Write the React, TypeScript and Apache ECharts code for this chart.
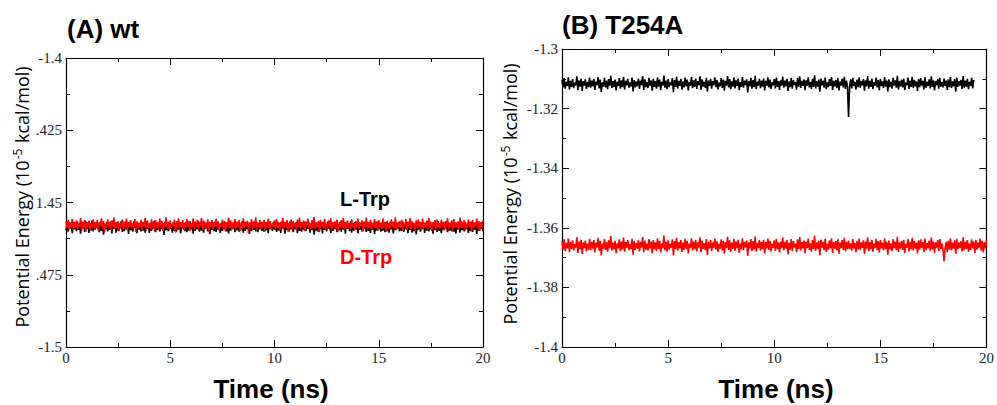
import React, { useEffect, useRef } from "react";
import * as echarts from "echarts";

// ---------- data ----------
const timeStepNs = 0.05;

const xTickValues = [0, 5, 10, 15, 20];
const xTickLabels = ["0", "5", "10", "15", "20"];

const wtTickValues = [-1.5, -1.475, -1.45, -1.425, -1.4];
const wtTickLabels = ["-1.5", ".475", "1.45", ".425", "-1.4"];

const t254aTickValues = [-1.4, -1.38, -1.36, -1.34, -1.32, -1.3];
const t254aTickLabels = ["-1.4", "-1.38", "-1.36", "-1.34", "-1.32", "-1.3"];

// (A) wt, L-Trp (black), 0-20 ns
const wtLTrp = [
  -1.4596, -1.4572, -1.4601, -1.4568, -1.4590, -1.4576, -1.4606, -1.4570, -1.4593, -1.4579,
  -1.4599, -1.4566, -1.4595, -1.4574, -1.4608, -1.4569, -1.4588, -1.4577, -1.4602, -1.4565,
  -1.4591, -1.4573, -1.4605, -1.4571, -1.4597, -1.4563, -1.4600, -1.4575, -1.4594, -1.4570,
  -1.4589, -1.4578, -1.4603, -1.4567, -1.4598, -1.4572, -1.4611, -1.4574, -1.4592, -1.4569,
  -1.4600, -1.4576, -1.4595, -1.4566, -1.4607, -1.4573, -1.4590, -1.4571, -1.4604, -1.4568,
  -1.4597, -1.4575, -1.4589, -1.4564, -1.4602, -1.4579, -1.4599, -1.4570, -1.4593, -1.4577,
  -1.4609, -1.4567, -1.4596, -1.4573, -1.4601, -1.4566, -1.4588, -1.4578, -1.4606, -1.4571,
  -1.4594, -1.4574, -1.4600, -1.4568, -1.4597, -1.4572, -1.4604, -1.4565, -1.4591, -1.4576,
  -1.4605, -1.4570, -1.4598, -1.4575, -1.4590, -1.4563, -1.4603, -1.4572, -1.4595, -1.4579,
  -1.4600, -1.4569, -1.4592, -1.4573, -1.4612, -1.4567, -1.4596, -1.4574, -1.4599, -1.4571,
  -1.4591, -1.4576, -1.4604, -1.4568, -1.4597, -1.4572, -1.4601, -1.4566, -1.4594, -1.4577,
  -1.4607, -1.4571, -1.4589, -1.4574, -1.4599, -1.4569, -1.4603, -1.4575, -1.4596, -1.4565,
  -1.4593, -1.4573, -1.4608, -1.4570, -1.4598, -1.4576, -1.4592, -1.4564, -1.4601, -1.4572,
  -1.4597, -1.4578, -1.4604, -1.4567, -1.4590, -1.4574, -1.4600, -1.4571, -1.4610, -1.4569,
  -1.4595, -1.4575, -1.4599, -1.4566, -1.4602, -1.4573, -1.4594, -1.4577, -1.4605, -1.4570,
  -1.4598, -1.4572, -1.4593, -1.4568, -1.4600, -1.4575, -1.4607, -1.4567, -1.4597, -1.4574,
  -1.4590, -1.4571, -1.4603, -1.4576, -1.4596, -1.4569, -1.4601, -1.4573, -1.4594, -1.4565,
  -1.4604, -1.4574, -1.4598, -1.4570, -1.4592, -1.4577, -1.4609, -1.4572, -1.4599, -1.4568,
  -1.4595, -1.4575, -1.4600, -1.4567, -1.4603, -1.4573, -1.4593, -1.4571, -1.4598, -1.4576,
  -1.4601, -1.4569, -1.4596, -1.4574, -1.4606, -1.4570, -1.4591, -1.4575, -1.4599, -1.4567,
  -1.4594, -1.4578, -1.4602, -1.4566, -1.4597, -1.4572, -1.4605, -1.4569, -1.4590, -1.4574,
  -1.4608, -1.4573, -1.4595, -1.4577, -1.4600, -1.4565, -1.4593, -1.4571, -1.4603, -1.4575,
  -1.4592, -1.4568, -1.4606, -1.4574, -1.4598, -1.4570, -1.4601, -1.4576, -1.4594, -1.4567,
  -1.4599, -1.4575, -1.4591, -1.4569, -1.4604, -1.4573, -1.4596, -1.4564, -1.4611, -1.4572,
  -1.4597, -1.4576, -1.4602, -1.4568, -1.4593, -1.4574, -1.4607, -1.4570, -1.4595, -1.4578,
  -1.4600, -1.4566, -1.4590, -1.4573, -1.4605, -1.4571, -1.4598, -1.4575, -1.4592, -1.4569,
  -1.4603, -1.4574, -1.4596, -1.4567, -1.4601, -1.4577, -1.4594, -1.4572, -1.4608, -1.4570,
  -1.4591, -1.4573, -1.4599, -1.4565, -1.4604, -1.4575, -1.4597, -1.4568, -1.4593, -1.4576,
  -1.4606, -1.4570, -1.4595, -1.4574, -1.4600, -1.4567, -1.4590, -1.4573, -1.4602, -1.4571,
  -1.4598, -1.4577, -1.4605, -1.4569, -1.4594, -1.4572, -1.4609, -1.4575, -1.4596, -1.4566,
  -1.4592, -1.4574, -1.4601, -1.4570, -1.4597, -1.4576, -1.4603, -1.4568, -1.4599, -1.4573,
  -1.4604, -1.4567, -1.4593, -1.4575, -1.4607, -1.4571, -1.4595, -1.4578, -1.4590, -1.4569,
  -1.4600, -1.4572, -1.4598, -1.4566, -1.4602, -1.4574, -1.4592, -1.4570, -1.4606, -1.4575,
  -1.4595, -1.4568, -1.4604, -1.4573, -1.4599, -1.4577, -1.4610, -1.4571, -1.4594, -1.4567,
  -1.4601, -1.4575, -1.4591, -1.4569, -1.4605, -1.4572, -1.4597, -1.4574, -1.4600, -1.4570,
  -1.4593, -1.4576, -1.4608, -1.4567, -1.4596, -1.4573, -1.4602, -1.4565, -1.4598, -1.4574,
  -1.4606, -1.4571, -1.4594, -1.4575, -1.4590, -1.4569, -1.4603, -1.4572, -1.4597, -1.4577,
  -1.4599, -1.4568, -1.4601, -1.4574, -1.4607, -1.4570, -1.4593, -1.4576, -1.4604, -1.4566,
  -1.4596, -1.4573, -1.4600, -1.4569, -1.4592, -1.4575, -1.4605, -1.4571, -1.4598, -1.4567,
  -1.4602, -1.4574, -1.4594, -1.4570, -1.4609, -1.4572, -1.4597, -1.4576, -1.4591, -1.4568,
  -1.4600,
];

// (A) wt, D-Trp (red), 0-20 ns
const wtDTrp = [
  -1.4565, -1.4589, -1.4560, -1.4593, -1.4570, -1.4585, -1.4557, -1.4596, -1.4567, -1.4587,
  -1.4562, -1.4591, -1.4572, -1.4583, -1.4554, -1.4598, -1.4566, -1.4588, -1.4561, -1.4601,
  -1.4569, -1.4584, -1.4563, -1.4594, -1.4571, -1.4589, -1.4558, -1.4590, -1.4568, -1.4586,
  -1.4560, -1.4597, -1.4570, -1.4582, -1.4555, -1.4592, -1.4564, -1.4603, -1.4573, -1.4587,
  -1.4558, -1.4589, -1.4567, -1.4595, -1.4562, -1.4584, -1.4552, -1.4591, -1.4569, -1.4588,
  -1.4564, -1.4599, -1.4571, -1.4585, -1.4559, -1.4593, -1.4566, -1.4589, -1.4556, -1.4596,
  -1.4568, -1.4583, -1.4561, -1.4590, -1.4573, -1.4587, -1.4557, -1.4602, -1.4565, -1.4589,
  -1.4570, -1.4586, -1.4560, -1.4594, -1.4567, -1.4582, -1.4553, -1.4597, -1.4563, -1.4588,
  -1.4572, -1.4591, -1.4558, -1.4585, -1.4566, -1.4600, -1.4561, -1.4587, -1.4569, -1.4593,
  -1.4556, -1.4586, -1.4564, -1.4598, -1.4571, -1.4584, -1.4551, -1.4590, -1.4567, -1.4595,
  -1.4562, -1.4588, -1.4573, -1.4583, -1.4559, -1.4604, -1.4565, -1.4587, -1.4555, -1.4592,
  -1.4568, -1.4585, -1.4561, -1.4596, -1.4570, -1.4589, -1.4557, -1.4586, -1.4564, -1.4599,
  -1.4572, -1.4584, -1.4555, -1.4591, -1.4566, -1.4587, -1.4560, -1.4594, -1.4569, -1.4582,
  -1.4554, -1.4597, -1.4563, -1.4586, -1.4571, -1.4590, -1.4558, -1.4603, -1.4567, -1.4585,
  -1.4561, -1.4593, -1.4569, -1.4583, -1.4556, -1.4588, -1.4565, -1.4596, -1.4573, -1.4586,
  -1.4559, -1.4591, -1.4564, -1.4600, -1.4568, -1.4584, -1.4552, -1.4589, -1.4562, -1.4595,
  -1.4570, -1.4587, -1.4557, -1.4592, -1.4566, -1.4585, -1.4560, -1.4598, -1.4572, -1.4588,
  -1.4555, -1.4590, -1.4567, -1.4582, -1.4563, -1.4605, -1.4569, -1.4586, -1.4558, -1.4593,
  -1.4565, -1.4588, -1.4551, -1.4595, -1.4571, -1.4584, -1.4561, -1.4591, -1.4567, -1.4587,
  -1.4560, -1.4599, -1.4568, -1.4585, -1.4556, -1.4589, -1.4564, -1.4594, -1.4573, -1.4583,
  -1.4562, -1.4592, -1.4557, -1.4588, -1.4569, -1.4597, -1.4566, -1.4584, -1.4554, -1.4590,
  -1.4567, -1.4586, -1.4561, -1.4601, -1.4570, -1.4589, -1.4558, -1.4593, -1.4565, -1.4582,
  -1.4572, -1.4596, -1.4559, -1.4587, -1.4553, -1.4591, -1.4568, -1.4585, -1.4563, -1.4598,
  -1.4566, -1.4584, -1.4556, -1.4589, -1.4571, -1.4594, -1.4561, -1.4588, -1.4550, -1.4592,
  -1.4569, -1.4587, -1.4564, -1.4603, -1.4560, -1.4583, -1.4567, -1.4590, -1.4557, -1.4595,
  -1.4573, -1.4589, -1.4562, -1.4585, -1.4555, -1.4597, -1.4568, -1.4586, -1.4565, -1.4591,
  -1.4559, -1.4599, -1.4570, -1.4584, -1.4561, -1.4589, -1.4554, -1.4594, -1.4567, -1.4588,
  -1.4563, -1.4587, -1.4572, -1.4592, -1.4558, -1.4585, -1.4571, -1.4596, -1.4564, -1.4589,
  -1.4556, -1.4590, -1.4569, -1.4583, -1.4562, -1.4600, -1.4566, -1.4586, -1.4552, -1.4593,
  -1.4568, -1.4588, -1.4560, -1.4595, -1.4573, -1.4584, -1.4557, -1.4589, -1.4565, -1.4598,
  -1.4561, -1.4585, -1.4570, -1.4591, -1.4555, -1.4587, -1.4567, -1.4602, -1.4563, -1.4589,
  -1.4572, -1.4593, -1.4558, -1.4584, -1.4566, -1.4590, -1.4551, -1.4596, -1.4569, -1.4586,
  -1.4564, -1.4589, -1.4560, -1.4598, -1.4574, -1.4583, -1.4557, -1.4594, -1.4567, -1.4588,
  -1.4554, -1.4591, -1.4565, -1.4586, -1.4570, -1.4599, -1.4562, -1.4589, -1.4559, -1.4584,
  -1.4568, -1.4596, -1.4556, -1.4590, -1.4571, -1.4585, -1.4563, -1.4592, -1.4553, -1.4588,
  -1.4566, -1.4598, -1.4569, -1.4583, -1.4561, -1.4594, -1.4558, -1.4587, -1.4572, -1.4590,
  -1.4560, -1.4585, -1.4567, -1.4597, -1.4564, -1.4589, -1.4555, -1.4591, -1.4570, -1.4586,
  -1.4562, -1.4601, -1.4557, -1.4588, -1.4569, -1.4584, -1.4565, -1.4595, -1.4552, -1.4590,
  -1.4567, -1.4587, -1.4561, -1.4596, -1.4573, -1.4589, -1.4559, -1.4585, -1.4566, -1.4600,
  -1.4560, -1.4588, -1.4570, -1.4583, -1.4556, -1.4593, -1.4564, -1.4598, -1.4568, -1.4586,
  -1.4563,
];

// (B) T254A, L-Trp (black), runs to 19.4 ns
const t254aLTrp = [
  -1.3104, -1.3129, -1.3098, -1.3133, -1.3110, -1.3124, -1.3095, -1.3136, -1.3107, -1.3127,
  -1.3101, -1.3131, -1.3113, -1.3122, -1.3092, -1.3138, -1.3105, -1.3126, -1.3099, -1.3141,
  -1.3108, -1.3123, -1.3102, -1.3134, -1.3111, -1.3128, -1.3096, -1.3130, -1.3106, -1.3125,
  -1.3100, -1.3137, -1.3109, -1.3121, -1.3094, -1.3132, -1.3103, -1.3144, -1.3112, -1.3126,
  -1.3097, -1.3129, -1.3106, -1.3135, -1.3101, -1.3123, -1.3090, -1.3131, -1.3108, -1.3127,
  -1.3103, -1.3139, -1.3110, -1.3124, -1.3098, -1.3133, -1.3105, -1.3128, -1.3093, -1.3136,
  -1.3107, -1.3122, -1.3100, -1.3130, -1.3112, -1.3126, -1.3096, -1.3142, -1.3104, -1.3129,
  -1.3109, -1.3125, -1.3099, -1.3134, -1.3106, -1.3121, -1.3091, -1.3137, -1.3102, -1.3128,
  -1.3111, -1.3131, -1.3097, -1.3124, -1.3105, -1.3140, -1.3100, -1.3127, -1.3108, -1.3133,
  -1.3095, -1.3126, -1.3103, -1.3138, -1.3110, -1.3123, -1.3089, -1.3130, -1.3106, -1.3135,
  -1.3101, -1.3128, -1.3112, -1.3122, -1.3098, -1.3145, -1.3104, -1.3127, -1.3093, -1.3132,
  -1.3107, -1.3124, -1.3100, -1.3136, -1.3109, -1.3129, -1.3096, -1.3125, -1.3103, -1.3139,
  -1.3111, -1.3123, -1.3094, -1.3131, -1.3105, -1.3127, -1.3099, -1.3134, -1.3108, -1.3121,
  -1.3092, -1.3137, -1.3102, -1.3126, -1.3110, -1.3130, -1.3097, -1.3143, -1.3106, -1.3124,
  -1.3100, -1.3133, -1.3108, -1.3122, -1.3095, -1.3128, -1.3104, -1.3136, -1.3112, -1.3125,
  -1.3098, -1.3131, -1.3103, -1.3140, -1.3107, -1.3123, -1.3091, -1.3129, -1.3101, -1.3135,
  -1.3109, -1.3126, -1.3096, -1.3132, -1.3105, -1.3124, -1.3099, -1.3138, -1.3111, -1.3127,
  -1.3094, -1.3130, -1.3106, -1.3121, -1.3102, -1.3146, -1.3108, -1.3125, -1.3097, -1.3133,
  -1.3104, -1.3128, -1.3090, -1.3135, -1.3110, -1.3123, -1.3100, -1.3131, -1.3106, -1.3126,
  -1.3099, -1.3139, -1.3107, -1.3124, -1.3095, -1.3129, -1.3103, -1.3134, -1.3112, -1.3122,
  -1.3101, -1.3132, -1.3096, -1.3127, -1.3108, -1.3137, -1.3105, -1.3123, -1.3093, -1.3130,
  -1.3106, -1.3125, -1.3100, -1.3141, -1.3109, -1.3128, -1.3097, -1.3133, -1.3104, -1.3121,
  -1.3111, -1.3136, -1.3098, -1.3126, -1.3092, -1.3131, -1.3107, -1.3124, -1.3102, -1.3138,
  -1.3105, -1.3123, -1.3095, -1.3129, -1.3110, -1.3134, -1.3100, -1.3127, -1.3088, -1.3132,
  -1.3108, -1.3126, -1.3103, -1.3143, -1.3099, -1.3122, -1.3106, -1.3130, -1.3096, -1.3135,
  -1.3112, -1.3128, -1.3101, -1.3124, -1.3094, -1.3137, -1.3107, -1.3125, -1.3104, -1.3131,
  -1.3098, -1.3139, -1.3109, -1.3123, -1.3100, -1.3129, -1.3093, -1.3134, -1.3106, -1.3127,
  -1.3228, -1.3126, -1.3102, -1.3132, -1.3097, -1.3124, -1.3110, -1.3136, -1.3103, -1.3128,
  -1.3095, -1.3130, -1.3108, -1.3122, -1.3101, -1.3140, -1.3105, -1.3125, -1.3091, -1.3133,
  -1.3107, -1.3127, -1.3099, -1.3135, -1.3111, -1.3123, -1.3096, -1.3129, -1.3104, -1.3138,
  -1.3100, -1.3124, -1.3109, -1.3131, -1.3094, -1.3126, -1.3106, -1.3142, -1.3102, -1.3128,
  -1.3110, -1.3133, -1.3097, -1.3123, -1.3105, -1.3130, -1.3090, -1.3136, -1.3108, -1.3125,
  -1.3103, -1.3129, -1.3099, -1.3138, -1.3112, -1.3122, -1.3096, -1.3134, -1.3106, -1.3127,
  -1.3093, -1.3131, -1.3104, -1.3125, -1.3109, -1.3141, -1.3101, -1.3128, -1.3098, -1.3123,
  -1.3107, -1.3136, -1.3095, -1.3130, -1.3110, -1.3124, -1.3102, -1.3132, -1.3092, -1.3127,
  -1.3105, -1.3139, -1.3108, -1.3122, -1.3100, -1.3133, -1.3097, -1.3126, -1.3111, -1.3129,
  -1.3099, -1.3124, -1.3106, -1.3137, -1.3103, -1.3128, -1.3094, -1.3131, -1.3109, -1.3125,
  -1.3101, -1.3143, -1.3096, -1.3127, -1.3108, -1.3123, -1.3104, -1.3134, -1.3091, -1.3130,
  -1.3106, -1.3126, -1.3100, -1.3135, -1.3110, -1.3124, -1.3097, -1.3132, -1.3104,
];

// (B) T254A, D-Trp (red), 0-20 ns
const t254aDTrp = [
  -1.3645, -1.3673, -1.3639, -1.3678, -1.3651, -1.3669, -1.3636, -1.3681, -1.3648, -1.3671,
  -1.3642, -1.3676, -1.3655, -1.3667, -1.3632, -1.3684, -1.3646, -1.3672, -1.3640, -1.3688,
  -1.3649, -1.3668, -1.3643, -1.3679, -1.3653, -1.3674, -1.3637, -1.3675, -1.3647, -1.3670,
  -1.3641, -1.3683, -1.3650, -1.3666, -1.3634, -1.3677, -1.3644, -1.3692, -1.3654, -1.3671,
  -1.3638, -1.3674, -1.3648, -1.3680, -1.3642, -1.3668, -1.3628, -1.3676, -1.3650, -1.3672,
  -1.3644, -1.3685, -1.3652, -1.3669, -1.3639, -1.3678, -1.3646, -1.3673, -1.3633, -1.3681,
  -1.3648, -1.3667, -1.3641, -1.3675, -1.3655, -1.3671, -1.3637, -1.3690, -1.3645, -1.3674,
  -1.3651, -1.3670, -1.3640, -1.3679, -1.3647, -1.3666, -1.3631, -1.3682, -1.3643, -1.3673,
  -1.3653, -1.3676, -1.3638, -1.3669, -1.3646, -1.3686, -1.3641, -1.3672, -1.3649, -1.3678,
  -1.3635, -1.3671, -1.3644, -1.3683, -1.3652, -1.3668, -1.3626, -1.3675, -1.3647, -1.3680,
  -1.3642, -1.3673, -1.3654, -1.3667, -1.3639, -1.3693, -1.3645, -1.3672, -1.3634, -1.3677,
  -1.3648, -1.3669, -1.3641, -1.3681, -1.3650, -1.3674, -1.3637, -1.3670, -1.3644, -1.3685,
  -1.3653, -1.3668, -1.3635, -1.3676, -1.3646, -1.3672, -1.3640, -1.3679, -1.3649, -1.3666,
  -1.3632, -1.3682, -1.3643, -1.3671, -1.3652, -1.3675, -1.3638, -1.3691, -1.3647, -1.3669,
  -1.3641, -1.3678, -1.3649, -1.3667, -1.3636, -1.3673, -1.3645, -1.3681, -1.3654, -1.3670,
  -1.3639, -1.3676, -1.3644, -1.3687, -1.3648, -1.3668, -1.3630, -1.3674, -1.3642, -1.3680,
  -1.3650, -1.3671, -1.3637, -1.3677, -1.3646, -1.3669, -1.3640, -1.3684, -1.3653, -1.3672,
  -1.3635, -1.3675, -1.3647, -1.3666, -1.3643, -1.3694, -1.3649, -1.3670, -1.3638, -1.3678,
  -1.3645, -1.3673, -1.3629, -1.3680, -1.3652, -1.3668, -1.3641, -1.3676, -1.3647, -1.3671,
  -1.3640, -1.3686, -1.3648, -1.3669, -1.3636, -1.3674, -1.3644, -1.3679, -1.3654, -1.3667,
  -1.3642, -1.3677, -1.3637, -1.3672, -1.3649, -1.3683, -1.3646, -1.3668, -1.3633, -1.3675,
  -1.3647, -1.3670, -1.3641, -1.3689, -1.3650, -1.3673, -1.3638, -1.3678, -1.3645, -1.3666,
  -1.3653, -1.3682, -1.3639, -1.3671, -1.3631, -1.3676, -1.3648, -1.3669, -1.3643, -1.3685,
  -1.3646, -1.3668, -1.3636, -1.3674, -1.3652, -1.3680, -1.3641, -1.3672, -1.3627, -1.3677,
  -1.3649, -1.3671, -1.3644, -1.3692, -1.3640, -1.3667, -1.3647, -1.3675, -1.3637, -1.3681,
  -1.3654, -1.3673, -1.3642, -1.3669, -1.3635, -1.3684, -1.3648, -1.3670, -1.3645, -1.3676,
  -1.3639, -1.3687, -1.3650, -1.3668, -1.3641, -1.3674, -1.3634, -1.3679, -1.3647, -1.3672,
  -1.3643, -1.3671, -1.3652, -1.3677, -1.3638, -1.3669, -1.3651, -1.3682, -1.3644, -1.3673,
  -1.3636, -1.3675, -1.3649, -1.3667, -1.3642, -1.3688, -1.3646, -1.3670, -1.3632, -1.3678,
  -1.3648, -1.3672, -1.3640, -1.3680, -1.3653, -1.3668, -1.3637, -1.3674, -1.3645, -1.3683,
  -1.3641, -1.3669, -1.3650, -1.3676, -1.3635, -1.3671, -1.3647, -1.3690, -1.3643, -1.3673,
  -1.3652, -1.3678, -1.3638, -1.3668, -1.3646, -1.3675, -1.3630, -1.3681, -1.3649, -1.3670,
  -1.3644, -1.3674, -1.3640, -1.3684, -1.3654, -1.3667, -1.3637, -1.3679, -1.3647, -1.3672,
  -1.3634, -1.3676, -1.3645, -1.3670, -1.3650, -1.3686, -1.3642, -1.3673, -1.3639, -1.3668,
  -1.3648, -1.3681, -1.3636, -1.3675, -1.3651, -1.3669, -1.3643, -1.3677, -1.3633, -1.3672,
  -1.3646, -1.3684, -1.3649, -1.3667, -1.3641, -1.3678, -1.3638, -1.3671, -1.3652, -1.3674,
  -1.3712, -1.3669, -1.3647, -1.3682, -1.3644, -1.3673, -1.3635, -1.3676, -1.3650, -1.3670,
  -1.3642, -1.3688, -1.3637, -1.3672, -1.3649, -1.3668, -1.3645, -1.3679, -1.3632, -1.3675,
  -1.3647, -1.3671, -1.3641, -1.3680, -1.3653, -1.3674, -1.3639, -1.3669, -1.3646, -1.3685,
  -1.3640, -1.3673, -1.3650, -1.3667, -1.3636, -1.3677, -1.3644, -1.3683, -1.3648, -1.3670,
  -1.3643,
];

const panelTitles = ["(A) wt", "(B) T254A"];
const xAxisTitle = "Time (ns)";
const legendNames = ["L-Trp", "D-Trp"];

// ---------- helpers ----------
const toPairs = (vals: number[]) => vals.map((v, i) => [Number((i * timeStepNs).toFixed(2)), v]);

const lookupLabel = (values: number[], labels: string[]) => (v: number) => {
  const i = values.findIndex((t) => Math.abs(t - v) < 1e-7);
  return i >= 0 ? labels[i] : "";
};

const AXIS_COLOR = "#000";
const LABEL_FONT = "Liberation Serif";
const SANS = "Liberation Sans";
const TRACE_WIDTH = 1.6;

function makeXAxes(gridIndex: number) {
  const common = {
    type: "value",
    gridIndex,
    min: 0,
    max: 20,
    interval: 5,
    axisLine: { show: true, onZero: false, lineStyle: { color: AXIS_COLOR, width: 1.2 } },
    axisTick: { show: true, inside: true, length: 7, lineStyle: { color: AXIS_COLOR, width: 1 } },
    minorTick: { show: true, splitNumber: 2, length: 4, lineStyle: { color: AXIS_COLOR, width: 1 } },
    splitLine: { show: false },
    minorSplitLine: { show: false },
  };
  return [
    {
      ...common,
      position: "bottom",
      axisLabel: {
        show: true,
        fontFamily: LABEL_FONT,
        fontSize: 15,
        color: "#222",
        margin: 3,
        formatter: lookupLabel(xTickValues, xTickLabels),
      },
    },
    { ...common, position: "top", axisLabel: { show: false } },
  ];
}

function makeYAxes(gridIndex: number, min: number, max: number, interval: number, values: number[], labels: string[]) {
  const common = {
    type: "value",
    gridIndex,
    min,
    max,
    interval,
    axisLine: { show: true, onZero: false, lineStyle: { color: AXIS_COLOR, width: 1.2 } },
    axisTick: { show: true, inside: true, length: 7, lineStyle: { color: AXIS_COLOR, width: 1 } },
    minorTick: { show: true, splitNumber: 2, length: 4, lineStyle: { color: AXIS_COLOR, width: 1 } },
    splitLine: { show: false },
    minorSplitLine: { show: false },
    scale: true,
  };
  return [
    {
      ...common,
      position: "left",
      axisLabel: {
        show: true,
        fontFamily: LABEL_FONT,
        fontSize: 15,
        color: "#222",
        margin: 4,
        formatter: lookupLabel(values, labels),
      },
    },
    { ...common, position: "right", axisLabel: { show: false } },
  ];
}

function yNameText(x: number, y: number) {
  return {
    type: "text",
    x,
    y,
    rotation: Math.PI / 2,
    style: {
      text: "{n|Potential Energy (10}{s|-5}{n| kcal/mol)}",
      align: "center",
      verticalAlign: "middle",
      rich: {
        n: { fontFamily: "Open Sans", fontSize: 18, fill: "#000", lineHeight: 22 },
        s: { fontFamily: "Open Sans", fontSize: 12, fill: "#000", verticalAlign: "top", lineHeight: 22, padding: [0, 1, 6, 1] },
      },
    },
  };
}

function boldText(text: string, x: number, y: number, size: number, color: string, align = "left") {
  return {
    type: "text",
    x,
    y,
    style: {
      text,
      fontFamily: SANS,
      fontWeight: "bold",
      fontSize: size,
      fill: color,
      align,
      verticalAlign: "middle",
    },
  };
}

function trace(name: string, axisIndex: number, vals: number[], color: string) {
  return {
    name,
    type: "line",
    xAxisIndex: axisIndex,
    yAxisIndex: axisIndex,
    data: toPairs(vals),
    showSymbol: false,
    symbol: "none",
    lineStyle: { color, width: TRACE_WIDTH },
  };
}

export default function App() {
  const ref = useRef<HTMLDivElement>(null);

  useEffect(() => {
    if (!ref.current) return;
    const chart = echarts.init(ref.current, null, { renderer: "svg" });

    const option = {
      animation: false,
      backgroundColor: "#fff",
      grid: [
        { left: 66, top: 58, width: 417, height: 289, containLabel: false },
        { left: 562, top: 49, width: 428, height: 298, containLabel: false },
      ],
      xAxis: [...makeXAxes(0), ...makeXAxes(1)],
      yAxis: [
        ...makeYAxes(0, -1.5, -1.4, 0.025, wtTickValues, wtTickLabels),
        ...makeYAxes(1, -1.4, -1.3, 0.02, t254aTickValues, t254aTickLabels),
      ],
      series: [
        trace("wt " + legendNames[0], 0, wtLTrp, "#000"),
        trace("wt " + legendNames[1], 0, wtDTrp, "#ff0000"),
        trace("T254A " + legendNames[0], 2, t254aLTrp, "#000"),
        trace("T254A " + legendNames[1], 2, t254aDTrp, "#ff0000"),
      ],
      graphic: [
        boldText(panelTitles[0], 67, 29, 26, "#000"),
        boldText(panelTitles[1], 562, 25, 26, "#000"),
        boldText(xAxisTitle, 271, 389, 26, "#000", "center"),
        boldText(xAxisTitle, 776, 389, 26, "#000", "center"),
        boldText(legendNames[0], 340, 199, 20, "#000"),
        boldText(legendNames[1], 340, 257, 20, "#ff0000"),
        yNameText(22, 197),
        yNameText(510, 194),
      ],
    };

    chart.setOption(option as any);
    return () => chart.dispose();
  }, []);

  return (
    <div
      ref={ref}
      style={{ position: "fixed", left: 0, top: 0, width: 997, height: 405, background: "#fff" }}
    />
  );
}
